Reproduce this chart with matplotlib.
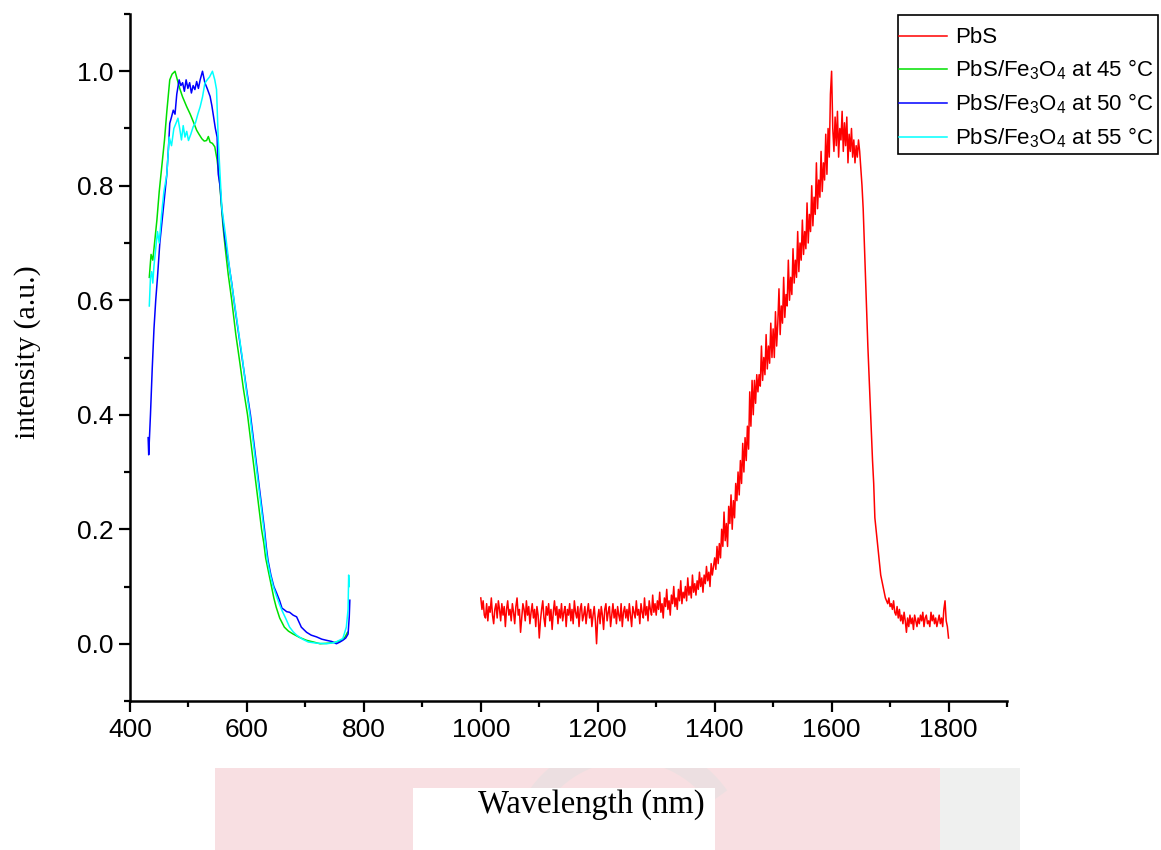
import matplotlib
matplotlib.use("Agg")
import matplotlib.pyplot as plt
from matplotlib.ticker import MultipleLocator
from matplotlib.patches import Rectangle, Arc
from matplotlib.transforms import IdentityTransform

plt.rcParams['font.family'] = ['Liberation Sans', 'DejaVu Sans']
plt.rcParams['mathtext.fontset'] = 'custom'
plt.rcParams['mathtext.rm'] = 'Liberation Sans'

# ---------------- data ----------------
# PbS (red), 2 nm step from 1000 to 1800 nm
wl_pbs = list(range(1000, 1801, 2))
int_pbs = [
    .08, .06, .075, .05, .045, .07, .04, .065, .055, .08, .05, .035, .06, .07, .045, .075, .06, .04, .07, .05, .065, .03, .06, .075, .05,
    .06, .04, .07, .055, .035, .065, .08, .05, .06, .02, .045, .07, .06, .04, .075, .05, .065, .035, .055, .07, .045, .06, .03, .065, .05,
    .01, .04, .06, .075, .045, .03, .065, .05, .07, .04, .06, .025, .055, .075, .05, .065, .035, .06, .045, .07, .04, .055, .065, .03, .06,
    .05, .07, .04, .06, .035, .075, .055, .045, .065, .03, .06, .07, .04, .05, .065, .035, .055, .07, .045, .06, .03, .05, .065, .04, .0,
    .045, .06, .035, .065, .05, .025, .06, .07, .04, .055, .065, .03, .05, .07, .045, .06, .035, .065, .05, .04, .07, .03, .055, .065, .045,
    .06, .04, .07, .05, .03, .065, .055, .045, .075, .05, .06, .035, .07, .055, .045, .08, .05, .065, .04, .075, .06, .05, .085, .055, .07,
    .05, .075, .06, .09, .055, .07, .045, .08, .065, .095, .06, .075, .05, .085, .07, .1, .065, .08, .06, .095, .075, .11, .07, .09, .08,
    .1, .075, .115, .085, .1, .08, .12, .09, .105, .085, .11, .095, .125, .1, .115, .09, .12, .105, .135, .11, .125, .1, .14, .12, .135,
    .15, .13, .17, .14, .175, .15, .2, .17, .23, .18, .21, .17, .24, .21, .26, .2, .25, .22, .28, .25, .3, .26, .32, .28, .35,
    .3, .36, .32, .38, .34, .44, .38, .46, .4, .46, .42, .47, .44, .47, .45, .52, .46, .5, .47, .54, .48, .52, .49, .56, .5,
    .55, .5, .58, .52, .56, .62, .54, .59, .56, .64, .57, .61, .59, .67, .6, .64, .61, .69, .63, .67, .64, .72, .65, .7, .67,
    .74, .68, .72, .69, .77, .7, .75, .72, .8, .73, .78, .75, .84, .76, .81, .78, .86, .79, .84, .81, .89, .82, .9, .85, .96,
    1.0, .9, .86, .92, .87, .93, .85, .9, .88, .93, .86, .91, .87, .92, .84, .89, .86, .9, .85, .88, .84, .87, .85, .88, .86,
    .83, .8, .76, .7, .64, .58, .52, .47, .42, .37, .32, .28, .22, .2, .18, .16, .14, .12, .11, .1, .09, .08, .075, .07, .08,
    .065, .07, .06, .075, .055, .05, .065, .045, .06, .04, .05, .035, .055, .04, .02, .045, .03, .05, .035, .045, .025, .05, .04, .03, .045,
    .035, .05, .04, .055, .03, .045, .05, .035, .04, .03, .055, .04, .05, .035, .045, .03, .04, .05, .035, .045, .03, .06, .075, .04, .03,
    .01,
]

# PbS/Fe3O4 at 45 C (green)
wl_45 = [433, 436, 439, 442, 446, 450, 454, 459, 463, 468, 472, 477, 481, 485, 490, 497, 503, 509, 514, 518,
         523, 527, 531, 534, 537, 541, 545, 549, 553, 556, 559, 563, 568, 574, 581, 588, 594, 601, 607, 613,
         619, 625, 629, 632, 637, 642, 646, 650, 656, 664, 671, 679, 690, 702, 714, 725, 740, 753, 762, 768, 772]
int_45 = [0.64, 0.68, 0.67, 0.70, 0.74, 0.79, 0.83, 0.88, 0.93, 0.985, 0.995, 1.0, 0.985, 0.97, 0.955, 0.938, 0.925, 0.91, 0.897, 0.89,
          0.882, 0.878, 0.879, 0.886, 0.876, 0.874, 0.868, 0.845, 0.81, 0.77, 0.73, 0.69, 0.645, 0.60, 0.54, 0.49, 0.445, 0.40, 0.35, 0.30,
          0.25, 0.20, 0.175, 0.15, 0.125, 0.10, 0.08, 0.064, 0.045, 0.029, 0.022, 0.017, 0.011, 0.006, 0.003, 0.0, 0.001, 0.003, 0.006, 0.012, 0.02]

# PbS/Fe3O4 at 50 C (blue)
wl_50 = [431, 432, 435, 438, 441, 444, 447, 451, 455, 459, 463, 466, 468, 471, 474, 477, 480, 484, 487, 490,
         493, 496, 499, 502, 505, 508, 511, 514, 517, 520, 524, 528, 532, 537, 540, 543, 546, 549, 551, 554,
         557, 562, 568, 574, 579, 586, 593, 600, 606, 612, 618, 624, 630, 633, 636, 641, 646, 651, 656, 660,
         663, 668, 673, 679, 685, 689, 693, 698, 702, 710, 719, 728, 736, 745, 753, 759, 764, 769, 773, 775, 776]
int_50 = [0.36, 0.33, 0.40, 0.48, 0.55, 0.60, 0.64, 0.70, 0.74, 0.78, 0.82, 0.87, 0.909, 0.92, 0.932, 0.925, 0.96, 0.985, 0.975, 0.98,
          0.965, 0.985, 0.97, 0.98, 0.962, 0.975, 0.968, 0.982, 0.97, 0.985, 1.0, 0.98, 0.97, 0.956, 0.94, 0.92, 0.90, 0.885, 0.82, 0.80,
          0.76, 0.71, 0.67, 0.63, 0.59, 0.54, 0.49, 0.44, 0.40, 0.35, 0.30, 0.25, 0.20, 0.17, 0.146, 0.12, 0.10, 0.088, 0.075, 0.062,
          0.060, 0.056, 0.055, 0.050, 0.047, 0.038, 0.029, 0.024, 0.020, 0.015, 0.012, 0.008, 0.006, 0.004, 0.0, 0.003, 0.006, 0.010, 0.017, 0.047, 0.076]

# PbS/Fe3O4 at 55 C (cyan)
wl_55 = [433, 435, 437, 439, 441, 444, 447, 450, 454, 458, 463, 467, 471, 475, 479, 482, 485, 488, 491, 494,
         497, 500, 504, 508, 512, 516, 520, 524, 528, 532, 536, 541, 545, 548, 551, 554, 557, 564, 571, 578,
         585, 592, 598, 605, 611, 617, 623, 629, 632, 635, 640, 645, 651, 656, 660, 666, 673, 679, 685, 695,
         705, 720, 736, 750, 764, 770, 773, 774, 775]
int_55 = [0.59, 0.64, 0.65, 0.63, 0.66, 0.69, 0.72, 0.70, 0.75, 0.79, 0.82, 0.885, 0.87, 0.90, 0.91, 0.918, 0.90, 0.88, 0.905, 0.885,
          0.895, 0.879, 0.89, 0.903, 0.91, 0.925, 0.938, 0.955, 0.979, 0.985, 0.99, 1.0, 0.985, 0.968, 0.879, 0.82, 0.762, 0.709, 0.65, 0.60,
          0.55, 0.50, 0.45, 0.40, 0.35, 0.30, 0.25, 0.20, 0.17, 0.146, 0.12, 0.10, 0.082, 0.068, 0.058, 0.045, 0.029, 0.021, 0.015, 0.008,
          0.003, 0.001, 0.0, 0.002, 0.009, 0.029, 0.06, 0.12, 0.10]

labels = ['PbS',
          r'PbS/Fe$_\mathregular{3}$O$_\mathregular{4}$ at 45 °C',
          r'PbS/Fe$_\mathregular{3}$O$_\mathregular{4}$ at 50 °C',
          r'PbS/Fe$_\mathregular{3}$O$_\mathregular{4}$ at 55 °C']
colors = ['#ff0000', '#00e000', '#0000ff', '#00ffff']

# ---------------- figure ----------------
W, H = 1161, 850
fig = plt.figure(figsize=(W / 100, H / 100), dpi=100)

# faint page watermark at the bottom
pink = '#f8dfe2'
band = Rectangle((215 / W, 0), (940 - 215) / W, (850 - 768) / H,
                 transform=fig.transFigure, facecolor=pink, edgecolor='none', zorder=-10)
fig.patches.append(band)
fig.patches.append(Rectangle((940 / W, 0), (1020 - 940) / W, (850 - 768) / H,
                             transform=fig.transFigure, facecolor='#eff0ef', edgecolor='none', zorder=-10))
arc = Arc((628, 850 - 860), 220, 220, theta1=35, theta2=150, transform=IdentityTransform(),
          color='#ecdfe1', lw=16, zorder=-9.5)
arc.set_clip_path(band)
fig.patches.append(arc)
fig.patches.append(Rectangle((413 / W, 0), (715 - 413) / W, (850 - 788) / H,
                             transform=fig.transFigure, facecolor='white', edgecolor='none', zorder=-9))

ax = fig.add_axes([130 / W, 1 - 701 / H, (1007 - 130) / W, (701 - 14) / H])
ax.patch.set_alpha(0)

ax.plot(wl_pbs, int_pbs, color=colors[0], lw=1.1, label=labels[0])
ax.plot(wl_45, int_45, color=colors[1], lw=1.1, label=labels[1])
ax.plot(wl_50, int_50, color=colors[2], lw=1.1, label=labels[2])
ax.plot(wl_55, int_55, color=colors[3], lw=1.1, label=labels[3])

ax.set_xlim(400, 1900)
ax.set_ylim(-0.1, 1.1)
ax.set_xticks([400, 600, 800, 1000, 1200, 1400, 1600, 1800])
ax.xaxis.set_minor_locator(MultipleLocator(100))
ax.yaxis.set_major_locator(MultipleLocator(0.2))
ax.yaxis.set_minor_locator(MultipleLocator(0.1))
ax.yaxis.set_major_formatter(plt.FuncFormatter(lambda v, p: f"{v:.1f}"))

for s in ['top', 'right']:
    ax.spines[s].set_visible(False)
for s in ['left', 'bottom']:
    ax.spines[s].set_linewidth(1.8)
ax.tick_params(which='major', direction='out', length=8, width=1.6, labelsize=19, pad=4)
ax.tick_params(which='minor', direction='out', length=4, width=1.6)

fig.text(28 / W, 1 - 352 / H, 'intensity (a.u.)', rotation=90, ha='center', va='center',
         family='Liberation Serif', fontsize=21.5)
fig.text(591 / W, 1 - 805 / H, 'Wavelength (nm)', ha='center', va='center',
         family='Liberation Serif', fontsize=23.5)

# legend: frame box drawn separately so the padding matches the original
fig.patches.append(Rectangle((898 / W, 1 - 154 / H), (1158 - 898) / W, (154 - 15) / H,
                             transform=fig.transFigure, facecolor='white', edgecolor='black',
                             lw=1.2, zorder=5))
leg = fig.legend(loc='upper right', bbox_to_anchor=(1158 / W, 1 - 23 / H), fontsize=16,
                 frameon=False, handlelength=2.2,
                 borderpad=0.2, labelspacing=0.42, handletextpad=0.35, borderaxespad=0)
leg.set_zorder(6)

fig.savefig('out.png', dpi=100)
